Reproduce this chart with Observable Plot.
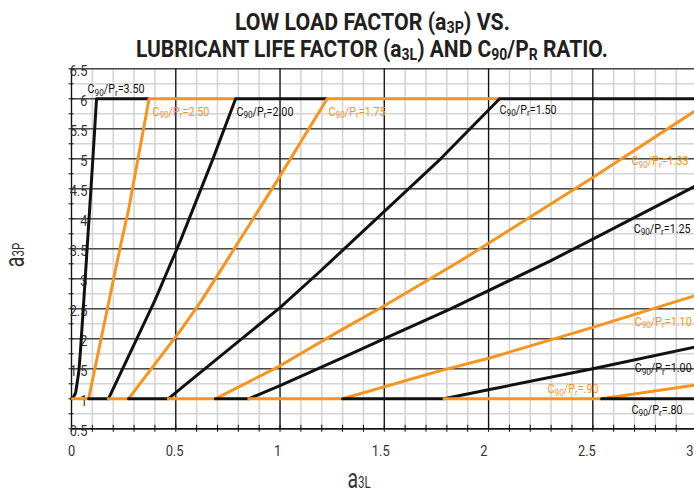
<!DOCTYPE html>
<html><head><meta charset="utf-8">
<script src="https://cdn.jsdelivr.net/npm/d3@7"></script>
<script src="https://cdn.jsdelivr.net/npm/@observablehq/plot@0.6"></script>
<style>
html,body{margin:0;padding:0;background:#fff;}
#wrap{position:relative;width:694px;height:489px;overflow:hidden;background:#fff;}
#wrap svg{position:absolute;left:0;top:0;}
</style></head>
<body><div id="wrap"></div>
<script>
// ---- tick values ----
const a3LTicks = [0, 0.5, 1, 1.5, 2, 2.5, 3];
const a3PTicks = [0.5, 1, 1.5, 2, 2.5, 3, 3.5, 4, 4.5, 5, 5.5, 6, 6.5];
const a3LMinor = d3.range(0, 31).map(i => i / 10);
const a3PMinor = d3.range(2, 27).map(i => i / 4);

// ---- C90/Pr ratios (series names) ----
const ratios = ["3.50", "2.50", "2.00", "1.75", "1.50", "1.33", "1.25", "1.10", "1.00", ".90", ".80"];

// ---- curves: [a3L, a3P] ----
const c350 = [[0, 1], [0.005, 1], [0.02, 1.1], [0.035, 1.45], [0.043, 1.8], [0.059, 2.64], [0.105, 5.14], [0.12, 6], [0.372, 6]];
const c250 = [[0.005, 1], [0.082, 1], [0.13, 1.8], [0.235, 3.55], [0.273, 4.14], [0.372, 6], [0.787, 6]];
const c200 = [[0.082, 1], [0.177, 1], [0.40, 2.64], [0.523, 3.64], [0.675, 4.97], [0.787, 6], [1.226, 6]];
const c175 = [[0.177, 1], [0.273, 1], [0.523, 2.14], [0.624, 2.64], [0.715, 3.14], [0.987, 4.64], [1.226, 6], [2.053, 6]];
const c150 = [[0.273, 1], [0.464, 1], [0.523, 1.17], [1.0, 2.52], [1.194, 3.13], [1.77, 5.0], [2.053, 6], [3, 6]];
const c133 = [[0.464, 1], [0.69, 1], [1.0, 1.55], [1.29, 2.14], [1.49, 2.53], [1.866, 3.3], [2.5, 4.69], [3, 5.82]];
const c125 = [[0.69, 1], [0.85, 1], [1.0, 1.22], [1.29, 1.67], [1.498, 2.0], [1.818, 2.5], [2.297, 3.3], [2.5, 3.66], [3, 4.56]];
const c110 = [[0.85, 1], [1.30, 1], [1.77, 1.47], [2.005, 1.68], [2.5, 2.19], [3, 2.73]];
const c100 = [[1.30, 1], [1.786, 1], [2.005, 1.155], [2.5, 1.5], [3, 1.87]];
const c090 = [[1.786, 1], [2.542, 1], [3, 1.235]];
const c080 = [[2.542, 1], [3, 1]];
const curves = [c350, c250, c200, c175, c150, c133, c125, c110, c100, c090, c080];

// ---- curve label anchors (data units) ----
const labelA3L = [0.077, 0.388, 0.791, 1.233, 2.053, 2.959, 2.969, 2.974, 2.974, 2.283, 2.686];
const labelA3P = [6.09, 5.72, 5.72, 5.72, 5.755, 4.89, 3.77, 2.22, 1.44, 1.09, 0.755];
const rightAligned = new Set(["1.33", "1.25", "1.10", "1.00"]);

const BLACK = "#111111", ORANGE = "#f7941d", INK = "#231f20";

const rows = curves.flatMap((pts, i) => pts.map(([a3L, a3P]) => ({ratio: ratios[i], a3L, a3P})));
const labels = ratios.map((r, i) => ({ratio: r, a3L: labelA3L[i], a3P: labelA3P[i], text: `C90/Pr=${r}`}));

const plot = Plot.plot({
  width: 700, height: 489,
  marginTop: 68.3, marginBottom: 60.7, marginLeft: 71, marginRight: 3.4,
  x: {domain: [0, 3]},
  y: {domain: [0.5, 6.5]},
  color: {domain: ratios, range: ratios.map((r, i) => i % 2 ? ORANGE : BLACK)},
  style: {fontFamily: "Roboto, sans-serif", fontSize: "15px", color: "#333", background: "transparent", maxWidth: "none", overflow: "visible"},
  marks: [
    Plot.ruleX(a3LMinor, {stroke: "#d3d3d3", strokeWidth: 1.5}),
    Plot.ruleY(a3PMinor, {stroke: "#d3d3d3", strokeWidth: 1.5}),
    Plot.ruleY(a3PTicks, {stroke: "#4a4a4a", strokeWidth: 1.4}),
    Plot.ruleX(a3LTicks, {stroke: BLACK, strokeWidth: 1.3}),
    Plot.ruleY([0.5], {stroke: BLACK, strokeWidth: 1.5}),
    Plot.axisX(a3LMinor, {tickSize: 7, dy: -3.5, fill: "none", stroke: BLACK, label: null}),
    Plot.axisY(a3PMinor, {tickSize: 5, dx: 2.5, fill: "none", stroke: BLACK, label: null}),
    Plot.axisX(a3LTicks, {tickSize: 0, tickPadding: 16, tickFormat: d => String(d), fill: "#333", fontSize: 15.5, label: null}),
    Plot.axisY(a3PTicks, {tickSize: 0, tickPadding: 0, dx: 16, dy: 2, tickFormat: d => String(d), fill: "#333", fontSize: 15.5, label: null}),
    Plot.line(rows, {x: "a3L", y: "a3P", z: "ratio", stroke: "ratio", strokeWidth: 3}),
    Plot.text(labels, {filter: d => !rightAligned.has(d.ratio), x: "a3L", y: "a3P", text: "text", fill: "ratio", textAnchor: "start", lineAnchor: "bottom", fontSize: 12.5}),
    Plot.text(labels, {filter: d => rightAligned.has(d.ratio), x: "a3L", y: "a3P", text: "text", fill: "ratio", textAnchor: "end", lineAnchor: "bottom", fontSize: 12.5})
  ]
});
plot.style.maxWidth = "none";
document.getElementById("wrap").appendChild(plot);

// condense helper (emulates a condensed typeface); keeps em-based y offsets
function condense(el, k, shift = 0) {
  const t = el.getAttribute("transform") || "";
  const x = el.getAttribute("x");
  if (x !== null && x !== "") {
    el.removeAttribute("x");
    el.setAttribute("transform", `${t} translate(${(parseFloat(x) || 0) + shift},0) scale(${k},1)`);
  } else {
    el.setAttribute("transform", `${t} translate(${shift},0) scale(${k},1)`);
  }
}
// x tick labels sit slightly left of their gridlines in the reference
plot.querySelectorAll('g[aria-label="x-axis tick label"] text').forEach((el, i) => condense(el, 0.83, -2.4 * a3LTicks[i]));
plot.querySelectorAll('g[aria-label="y-axis tick label"] text').forEach(el => condense(el, 0.83));

// curve labels with subscripts
plot.querySelectorAll('g[aria-label="text"] text').forEach(el => {
  const s = el.textContent;
  const r = s.split("=")[1];
  while (el.firstChild) el.removeChild(el.firstChild);
  const parts = [["C", 0], ["90", 1], ["/P", 0], ["r", 1], ["=" + r, 0]];
  let prev = 0;
  parts.forEach(([txt, sub]) => {
    const ts = document.createElementNS("http://www.w3.org/2000/svg", "tspan");
    ts.textContent = txt;
    const shift = sub ? 2.5 : 0;
    ts.setAttribute("dy", shift - prev);
    if (sub) ts.setAttribute("font-size", "9.5");
    prev = shift;
    el.appendChild(ts);
  });
  condense(el, 0.86);
});

const svg = d3.select(plot);
// y axis label a3P
const yl = svg.append("text").attr("fill", "#333").attr("font-family", "Roboto, sans-serif").attr("font-size", 27)
  .attr("transform", "translate(24,255) rotate(-90) scale(0.72,1)");
yl.append("tspan").text("a");
yl.append("tspan").attr("font-size", 16).text("3P");
// x axis label a3L
const xl = svg.append("text").attr("fill", "#333").attr("font-family", "Roboto, sans-serif").attr("font-size", 27)
  .attr("transform", "translate(359,488) scale(0.72,1)");
xl.append("tspan").text("a");
xl.append("tspan").attr("font-size", 16).text("3L");

// ---- title ----
const tsvg = d3.select("#wrap").append("svg").attr("width", 694).attr("height", 66);
function titleLine(parts, x0, x1, baseline) {
  const t = tsvg.append("text").attr("fill", INK).attr("font-family", "Roboto, sans-serif")
    .attr("font-weight", "bold").attr("font-size", 24);
  let prev = 0;
  parts.forEach(([txt, sub]) => {
    const shift = sub ? 3 : 0;
    const ts = t.append("tspan").text(txt).attr("dy", shift - prev);
    if (sub) ts.attr("font-size", 16);
    prev = shift;
  });
  const w = t.node().getBBox().width;
  t.attr("transform", `translate(${x0},${baseline}) scale(${(x1 - x0) / w},1)`);
}
titleLine([["LOW LOAD FACTOR (a", 0], ["3P", 1], [") VS.", 0]], 235, 510, 30);
titleLine([["LUBRICANT LIFE FACTOR (a", 0], ["3L", 1], [") AND C", 0], ["90", 1], ["/P", 0], ["R", 1], [" RATIO.", 0]], 136, 608, 56.7);
</script>
</body></html>
